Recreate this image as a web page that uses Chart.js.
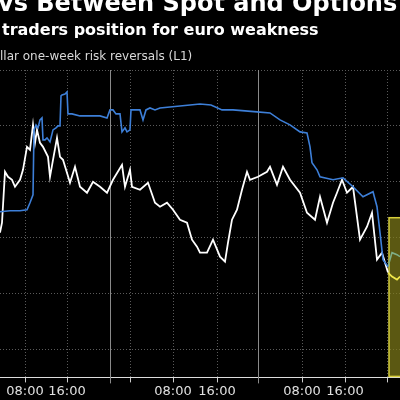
<!DOCTYPE html>
<html>
<head>
<meta charset="utf-8">
<script src="https://cdn.jsdelivr.net/npm/chart.js@4"></script>
<style>
  html, body { margin: 0; padding: 0; background: #000; }
  #wrap { width: 400px; height: 400px; }
</style>
</head>
<body>
<div id="wrap"><canvas id="riskChart"></canvas></div>
<script>
// x = position along the (trading-hours) time axis, y = level in chart units
const spotX  = [0,2,5,8,12,15,20,23,27,30,33,35,37,40,43,48,50,53,57,60,63,70,75,80,87,93,100,107,113,122,125,130,132,140,148,155,160,167,173,180,187,192,197,200,207,213,220,225,228,232,237,242,247,250,258,267,270,277,283,290,300,307,315,320,327,333,337,342,347,353,360,367,372,377,382,388];
const spotY  = [145,155,206,201,198,191,198,208,231,228,253,235,248,235,231,221,201,218,240,221,218,195,211,191,185,196,191,185,198,213,191,208,191,188,195,175,171,175,168,158,155,138,131,125,125,138,121,116,135,158,168,188,206,198,201,206,211,193,211,198,185,165,158,181,155,175,185,198,185,191,138,151,165,118,125,105];
const spotLatestX = [388,392,397,400];
const spotLatestY = [105,101,98,101];

const rrX = [0,10,20,27,30,33,34,36,38,40,42,43,45,47,50,53,56,58,60,61,62,65,67,68,72,80,90,100,107,110,113,116,120,122,125,127,130,131,135,140,143,146,150,155,160,170,180,190,200,211,222,233,257,270,280,290,300,307,310,312,317,320,333,343,353,363,373,377,380,383,388];
const rrY = [166,167,167,168,175,183,248,253,250,258,260,238,238,240,236,248,250,252,252,282,283,284,286,264,264,262,262,262,260,268,268,264,264,246,250,246,248,268,268,268,258,268,270,268,270,271,272,273,274,273,268,268,266,265,258,253,246,245,231,215,208,201,198,200,191,181,186,171,145,118,111];
const rrLatestX = [388,392,397,400];
const rrLatestY = [111,125,123,121];

const tickPos    = [25,67,110,130,173,217,258,302,345,387];
const tickLabels = ["08:00","16:00","","","08:00","16:00","","08:00","16:00",""];
const dayBreaks  = [110,258];
const gridY      = [28,84,140,196,252,308];

function pts(xs, ys) { return xs.map((x, i) => ({ x: x, y: ys[i] })); }

const textPlugin = {
  id: "texts",
  beforeDraw(chart) {
    const c = chart.ctx;
    c.save();
    c.fillStyle = "#000";
    c.fillRect(0, 0, chart.width, chart.height);
    c.restore();
  },
  beforeDatasetsDraw(chart) {
    const c = chart.ctx, xs = chart.scales.x, ys = chart.scales.y, a = chart.chartArea;
    c.save();
    // solid day separators
    c.strokeStyle = "#8a8a8a";
    c.lineWidth = 1;
    dayBreaks.forEach(v => {
      const px = Math.round(xs.getPixelForValue(v)) + 0.5;
      c.beginPath(); c.moveTo(px, a.top); c.lineTo(px, a.bottom + 6); c.stroke();
    });
    // highlight box on latest moves
    const x0 = xs.getPixelForValue(389), y0 = ys.getPixelForValue(160), y1 = ys.getPixelForValue(1);
    c.fillStyle = "rgba(130,125,25,0.7)";
    c.fillRect(x0, y0, 20, y1 - y0);
    c.strokeStyle = "#d8cf3c";
    c.lineWidth = 1.5;
    c.strokeRect(x0, y0, 20, y1 - y0);
    c.restore();
  },
  afterDraw(chart) {
    const c = chart.ctx;
    c.save();
    c.fillStyle = "#fff";
    c.textBaseline = "alphabetic";
    c.font = "bold 24px 'DejaVu Sans'";
    c.fillText("vs Between Spot and Options Markets", -2, 11);
    c.font = "bold 16px 'DejaVu Sans'";
    c.fillText("traders position for euro weakness", 2, 35);
    c.fillStyle = "#d8d8d8";
    c.font = "12px 'DejaVu Sans'";
    c.fillText("llar one-week risk reversals (L1)", 0, 60);
    c.restore();
  }
};

new Chart(document.getElementById("riskChart"), {
  type: "line",
  data: {
    datasets: [
      { data: pts(rrX, rrY), borderColor: "#3d7fd8", borderWidth: 1.6 },
      { data: pts(rrLatestX, rrLatestY), borderColor: "#7fae86", borderWidth: 1.6 },
      { data: pts(spotX, spotY), borderColor: "#ffffff", borderWidth: 1.8 },
      { data: pts(spotLatestX, spotLatestY), borderColor: "#efe64a", borderWidth: 1.8 }
    ]
  },
  options: {
    responsive: true,
    maintainAspectRatio: false,
    animation: false,
    layout: { padding: { top: 70, left: 0, right: 0, bottom: 0 } },
    elements: { point: { radius: 0 }, line: { tension: 0 } },
    plugins: { legend: { display: false }, tooltip: { enabled: false } },
    scales: {
      x: {
        type: "linear", min: 0, max: 400,
        afterBuildTicks: s => { s.ticks = tickPos.map(v => ({ value: v })); },
        ticks: {
          autoSkip: false, maxRotation: 0, padding: 1, color: "#e0e0e0",
          font: { family: "DejaVu Sans", size: 13 },
          callback: v => tickLabels[tickPos.indexOf(v)] || ""
        },
        grid: { color: "#5a5a5a", lineWidth: 1, tickLength: 5, tickColor: "#ccc" },
        border: { display: true, color: "#ddd", dash: [1, 2] }
      },
      y: {
        type: "linear", min: 0, max: 308,
        afterBuildTicks: s => { s.ticks = gridY.map(v => ({ value: v })); },
        afterFit: s => { s.width = 0; },
        ticks: { display: false },
        grid: { color: "#5a5a5a", lineWidth: 1, drawTicks: false },
        border: { display: false, dash: [1, 2] }
      }
    }
  },
  plugins: [textPlugin]
});
</script>
</body>
</html>
